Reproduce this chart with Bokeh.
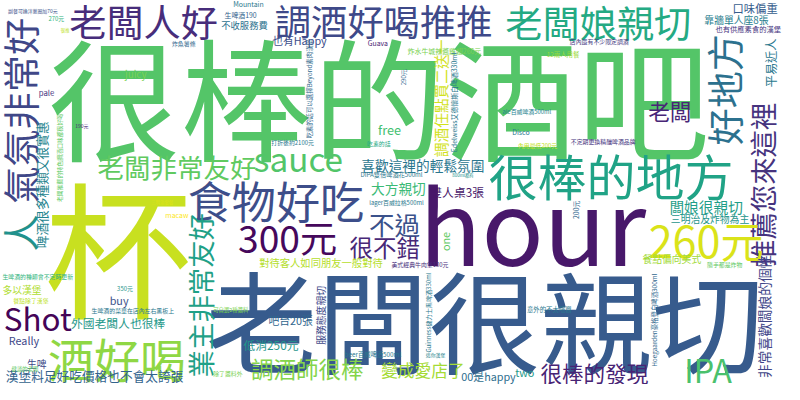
import math
from bokeh.plotting import figure
from bokeh.models import ColumnDataSource, Range1d
from bokeh.core.properties import value
from bokeh.embed import file_html
from bokeh.resources import INLINE

# word cloud: words and their font sizes (px on an 800x400 canvas)
words = [
    "很棒的酒吧", "hour", "老闆很親切", "杯", "酒好喝", "食物好吃", "很棒的地方", "老闆人好", "調酒好喝推推", "老闆娘親切",
    "氣氛非常好", "人", "好地方", "推薦您來這裡", "業主非常友好", "老闆非常友好", "sauce", "300元", "不過", "很不錯",
    "260元", "Shot", "IPA", "調酒師很棒", "很棒的發現", "變成愛店了", "老闆", "喜歡這裡的輕鬆氛圍", "大方親切", "雙人桌3張",
    "闆娘很親切", "三明治及炸物為主", "餐點偏向美式", "非常喜歡闆娘的個性", "外國老闆人也很棒", "漢堡料足好吃價格也不會太誇張", "多以漢堡", "生啤", "Really", "buy",
    "低消250元", "吧台20張", "對待客人如同朋友一般對待", "00是happy", "two", "也有Happy", "不收服務費", "Mountain", "生啤酒190", "靠牆單人座8張",
    "口味偏重", "也有供應素食的漢堡", "平易近人", "店內還有不少限定調酒", "12兩人用餐", "ale百威啤酒500ml", "Disco", "不定期更換精釀啤酒品牌", "內用最低200元", "200元",
    "Hoegaarden豪格登白啤酒300ml", "意外的不太喧囂", "隨手都是炸物", "美式經典牛肉堡130元", "Guinness健力士黑啤酒330ml", "迷你漢堡", "beer百威啤酒500ml", "服務態度親切", "可自選2種醬料", "除了醬料外",
    "健談的老闆", "餐點除了漢堡", "生啤酒的種類會不定時更新", "生啤酒的菜單在店內左右黑板上", "350元", "macaw", "三明治套餐", "啤酒很多種類又很實惠", "老闆推薦的特色調酒口味都很好喝", "190元",
    "pale", "juicy", "炸魚薯條", "很推", "270元", "副餐可換洋蔥圈加70元", "free", "打折後約2100元", "吃素的話", "DIPA雙倍啤酒花500ml",
    "800ml都有", "lager百威拉格500ml", "one", "Guava", "炸水牛城辣醬雞翅260元", "290元", "調酒任點買二送一", "Edelweiss艾德懷斯白啤酒330ml", "吃素的話可以選擇Beyond素肉漢堡",
]
sizes = [
    135, 105, 114, 150, 47, 45, 50, 38, 37, 38,
    38, 38, 38, 28, 28, 27, 34, 38, 26, 24,
    44, 32, 33, 23, 22, 17, 22, 14, 14, 12,
    15, 10, 10, 14, 12, 13, 10, 10, 11, 11,
    12, 11, 10.5, 11, 11, 11, 9.5, 7, 7, 10,
    11.5, 7.5, 12.5, 6, 6.5, 6, 7, 6, 6, 7,
    6.5, 6.5, 6, 6, 6.2, 5, 6.4, 10, 5.5, 6,
    5.5, 6, 6, 6, 6, 7, 4.5, 13, 6, 5,
    8, 10, 6, 4.5, 6, 5, 13, 6, 6, 6.3,
    4.5, 6, 11, 7, 7, 6, 15, 7, 6.5,
]

# layout: word centres in image pixels (y measured from top), 1 = vertical
xs = [
    386, 543, 494, 120, 119, 281, 623, 146, 391, 610,
    20, 20, 738, 777, 204, 180, 304, 293, 402, 392,
    720, 38, 722, 313, 606, 431, 683, 431, 406, 466,
    720, 724, 685, 779, 120, 96, 22, 37, 24, 121,
    276, 296, 327, 498, 535, 305, 249, 253, 245, 751,
    770, 763, 786, 611, 574, 537, 531, 615, 548, 587,
    667, 560, 739, 428, 437, 444, 380, 327, 235, 232,
    25, 31, 38, 135, 127, 180, 165, 42, 60, 83,
    47, 138, 187, 66, 57, 33, 397, 298, 386, 399,
    472, 404, 454, 385, 453, 411, 449, 463, 315,
]
ys = [
    97, 230, 330, 252, 372, 208, 181, 21, 20, 22,
    115, 242, 93, 192, 307, 173, 164, 246, 232, 257,
    248, 330, 384, 383, 387, 385, 115, 171, 195, 199,
    215, 228, 269, 329, 335, 391, 302, 379, 354, 312,
    358, 333, 273, 391, 387, 41, 26, 4, 15, 20,
    8, 30, 65, 43, 56, 116, 137, 147, 151, 218,
    333, 322, 275, 275, 325, 369, 369, 328, 322, 389,
    384, 312, 288, 323, 300, 223, 210, 192, 164, 130,
    96, 77, 45, 31, 19, 10, 134, 148, 149, 181,
    182, 210, 251, 44, 53, 80, 102, 106, 92,
]
vertical = [
    0, 0, 0, 0, 0, 0, 0, 0, 0, 0,
    1, 1, 1, 1, 1, 0, 0, 0, 0, 0,
    0, 0, 0, 0, 0, 0, 0, 0, 0, 0,
    0, 0, 0, 1, 0, 0, 0, 0, 0, 0,
    0, 0, 0, 0, 0, 0, 0, 0, 0, 0,
    0, 0, 1, 0, 0, 0, 0, 0, 0, 1,
    1, 0, 0, 0, 1, 0, 0, 1, 0, 0,
    0, 0, 0, 0, 0, 0, 0, 1, 1, 0,
    0, 0, 0, 0, 0, 0, 0, 0, 0, 0,
    0, 0, 1, 0, 0, 1, 1, 1, 1,
]
colors = [
    "#54c568", "#48186a", "#375b8d", "#c8e020", "#8fd744", "#3d4e8a", "#20a386", "#472d7b", "#3e4989", "#24aa83",
    "#3f4788", "#21918c", "#2c718e", "#46337e", "#1fa187", "#60ca60", "#52c569", "#46085c", "#3b528b", "#482878",
    "#dae319", "#450457", "#4ac16d", "#84d44b", "#482475", "#a5db36", "#482677", "#2a768e", "#3aba76", "#481769",
    "#1f9e89", "#1f958b", "#a2da37", "#404688", "#1f998a", "#33638d", "#b0dd2f", "#3e4989", "#3e4989", "#3b528b",
    "#1f968b", "#31668e", "#b5de2b", "#2e6e8e", "#1f9a8a", "#3d4d8a", "#2c718e", "#2a788e", "#33638d", "#287d8e",
    "#365d8d", "#46337e", "#2a788e", "#453781", "#9bd93c", "#25848e", "#2a788e", "#46337e", "#c2df23", "#31688e",
    "#31688e", "#2a788e", "#5ec962", "#472d7b", "#2a788e", "#25848e", "#2a788e", "#3e4a89", "#7ad151", "#7ad151",
    "#5ec962", "#bddf26", "#2fb47c", "#2a788e", "#1f968b", "#fde725", "#dfe318", "#25848e", "#5ec962", "#482878",
    "#463480", "#7ad151", "#31688e", "#bddf26", "#2fb47c", "#3b528b", "#44bf70", "#2a788e", "#22a884", "#2a788e",
    "#21918c", "#2a788e", "#5ec962", "#482475", "#7ad151", "#31688e", "#d2e21b", "#2a788e", "#31688e",
]

W, H = 784, 384
scale = W / 800

source = ColumnDataSource(data=dict(
    x=xs,
    y=[400 - y for y in ys],
    text=words,
    fs=["%.1fpx" % (s * scale) for s in sizes],
    angle=[math.pi / 2 if v else 0 for v in vertical],
    color=colors,
))

p = figure(width=W, height=H, x_range=Range1d(0, 800), y_range=Range1d(0, 400),
           toolbar_location=None, tools="", output_backend="svg", min_border=0)
p.axis.visible = False
p.grid.visible = False
p.outline_line_color = None
p.background_fill_color = "white"

p.text(x="x", y="y", text="text", angle="angle", text_color="color",
       text_font_size="fs", text_font=value("Noto Sans CJK TC"),
       text_align="center", text_baseline="middle", source=source)

open("out.html", "w").write(file_html(p, INLINE))
